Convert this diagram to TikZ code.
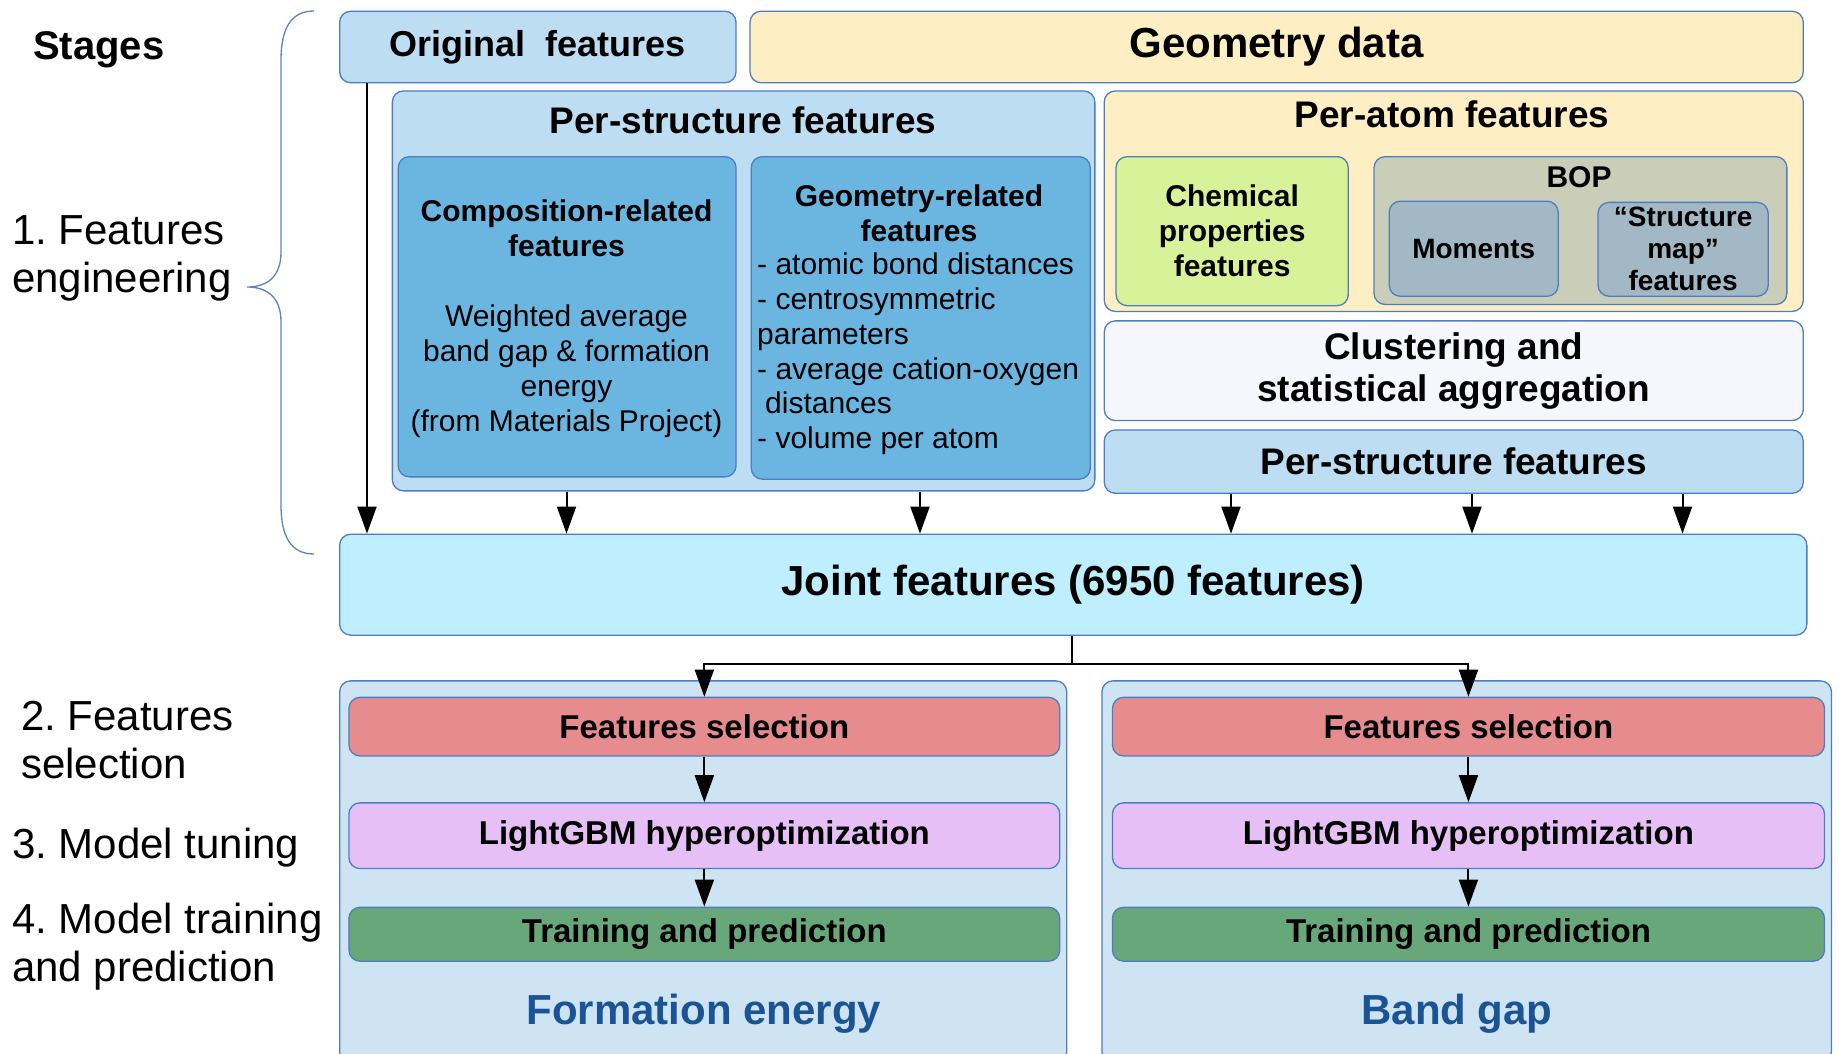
\documentclass[tikz,border=0pt]{standalone}
\usepackage{fontspec}
\setmainfont{Liberation Sans}
\usetikzlibrary{arrows.meta}
\frenchspacing

\definecolor{bdr}{HTML}{4E7DC0}
\definecolor{lblue}{HTML}{BDDDF2}
\definecolor{lyel}{HTML}{FDEFC3}
\definecolor{mblue}{HTML}{6BB5E1}
\definecolor{lgreen}{HTML}{D8F29A}
\definecolor{bopc}{HTML}{CACEB9}
\definecolor{momc}{HTML}{A3B8C5}
\definecolor{clus}{HTML}{F6F6FD}
\definecolor{jointc}{HTML}{BFEFFE}
\definecolor{outerb}{HTML}{CFE4F3}
\definecolor{fselc}{HTML}{E68C8E}
\definecolor{lgbmc}{HTML}{E6BFF6}
\definecolor{trainc}{HTML}{68A77A}
\definecolor{bluetxt}{HTML}{1B5494}
\definecolor{bracec}{HTML}{5A84BE}

\newcommand{\rbox}[7]{%
  \node[#2, anchor=north west, minimum width={#5-#3}, minimum height={#6-#4},
        inner sep=0pt, align=center] (#1) at (#3,#4) {#7};}

\tikzset{
  box/.style={draw=bdr, line width=1.3pt, rounded corners=11pt},
  arr/.style={-{Triangle[length=27pt,width=19pt]}, line width=2pt, black},
  conn/.style={line width=2pt, black},
  fA/.style={font=\fontsize{42}{49}\selectfont\bfseries},
  fB/.style={font=\fontsize{37}{42}\selectfont\bfseries},
  fO/.style={font=\fontsize{36}{42}\selectfont\bfseries},
  fC/.style={font=\fontsize{30}{35}\selectfont\bfseries},
  fD/.style={font=\fontsize{28}{32}\selectfont\bfseries},
  fS/.style={font=\fontsize{33}{38}\selectfont\bfseries},
  fL/.style={font=\fontsize{42}{48}\selectfont, inner sep=0pt, anchor=west, align=left},
}

\begin{document}
\begin{tikzpicture}[x=1pt,y=-1pt]
\useasboundingbox (0,0) rectangle (1839,1053);
\clip (0,0) rectangle (1839,1053);

% ---------- stage labels ----------
\node[font=\fontsize{40}{46}\selectfont\bfseries, inner sep=0pt, anchor=west] (stages) at (33,50) {Stages};
\node[fL] (st1) at (12,258) {1. Features\\engineering};
\node[fL] (st2) at (21,740) {2. Features\\selection};
\node[fL] (st3) at (12,848) {3. Model tuning};
\node[fL] (st4) at (12,947) {4. Model training\\and prediction};

% brace
\draw[bracec, line width=1.3pt]
  (314,11) .. controls (290,11) and (281,30) .. (281,60)
  -- (281,252) .. controls (281,276) and (268,287) .. (247,287)
  .. controls (268,287) and (281,298) .. (281,322)
  -- (281,505) .. controls (281,535) and (290,554) .. (314,554);

% ---------- top row ----------
\rbox{orig}{box, fill=lblue, fO}{339}{10.6}{735.4}{82.1}{Original\ \ features}
\rbox{geom}{box, fill=lyel, fA}{749.4}{10.6}{1802.6}{82.1}{Geometry data}

% per-structure (left)
\rbox{psL}{box, fill=lblue}{391.7}{90.3}{1094.2}{490.2}{}
\node[fB] (psLt) at (743,120) {Per-structure features};
\rbox{comp}{box, fill=mblue}{397.6}{156}{735.4}{476.2}{}
\node[font=\fontsize{30}{35}\selectfont, align=center, inner sep=0pt] (compt) at (566.5,319)
  {\textbf{Composition-related}\\\textbf{features}\\[35pt]Weighted average\\band gap \& formation\\energy\\(from Materials Project)};
\rbox{geor}{box, fill=mblue}{750.6}{156}{1089.6}{478.5}{}
\node[fC, align=center, inner sep=0pt] (geort) at (919,213.5) {Geometry-related\\features};
\node[font=\fontsize{30}{34.8}\selectfont, align=left, inner sep=0pt, anchor=west] (georl) at (757,354)
  {- atomic bond distances\\- centrosymmetric\\parameters\\- average cation-oxygen\\\hspace*{8pt}distances\\- volume per atom};

% per-atom (right)
\rbox{patom}{box, fill=lyel}{1103.6}{90.3}{1802.6}{310.8}{}
\node[fB] (patomt) at (1452,114) {Per-atom features};
\rbox{chem}{box, fill=lgreen, fC}{1115.4}{156}{1347.6}{305}{Chemical\\properties\\features}
\rbox{bop}{box, fill=bopc}{1373.4}{156}{1786.2}{303.8}{}
\node[fC] (bopt) at (1579,177) {BOP};
\rbox{mom}{box, fill=momc, fD}{1388.6}{200.5}{1557.5}{295.6}{Moments}
\rbox{smap}{box, fill=momc, fD}{1597.4}{201.7}{1767.5}{295.6}{``Structure\\map''\\features}
\rbox{clu}{box, fill=clus, fB}{1103.6}{320.2}{1802.6}{419.9}{Clustering and\\statistical aggregation}
\rbox{psR}{box, fill=lblue, fB}{1103.6}{429.3}{1802.6}{492.6}{Per-structure features}

% joint
\rbox{joint}{box, fill=jointc, fA}{339}{533.6}{1806.2}{634.5}{Joint features (6950 features)}

% arrows into joint
\coordinate (xa) at (367,0);
\coordinate (xb) at (566.5,0);
\coordinate (xc) at (920,0);
\coordinate (xd) at (1231,0);
\coordinate (xe) at (1472,0);
\coordinate (xf) at (1682.5,0);
\draw[arr] (orig.south -| xa) -- (joint.north -| xa);
\draw[arr] (psL.south -| xb) -- (joint.north -| xb);
\draw[arr] (psL.south -| xc) -- (joint.north -| xc);
\draw[arr] (psR.south -| xd) -- (joint.north -| xd);
\draw[arr] (psR.south -| xe) -- (joint.north -| xe);
\draw[arr] (psR.south -| xf) -- (joint.north -| xf);

% ---------- bottom ----------
\rbox{outF}{box, fill=outerb}{339}{680.2}{1066.1}{1062}{}
\rbox{outB}{box, fill=outerb}{1101.3}{680.2}{1830.8}{1062}{}

\rbox{fs1}{box, fill=fselc, fS}{348.3}{696.7}{1059.1}{755.3}{Features selection}
\rbox{lg1}{box, fill=lgbmc, fS}{348.3}{802.2}{1059.1}{867.9}{LightGBM hyperoptimization}
\rbox{tr1}{box, fill=trainc, fS}{348.3}{906.6}{1059.1}{960.5}{Training and prediction}
\node[fA, text=bluetxt] (fe) at (704,1014) {Formation energy};

\rbox{fs2}{box, fill=fselc, fS}{1111.8}{696.7}{1823.8}{755.3}{Features selection}
\rbox{lg2}{box, fill=lgbmc, fS}{1111.8}{802.2}{1823.8}{867.9}{LightGBM hyperoptimization}
\rbox{tr2}{box, fill=trainc, fS}{1111.8}{906.6}{1823.8}{960.5}{Training and prediction}
\node[fA, text=bluetxt] (bg) at (1457,1013.5) {Band gap};

\coordinate (hub) at (1071.6,664.3);
\draw[conn] (joint.south -| hub) -- (hub);
\draw[arr] (hub) -| (fs1.north);
\draw[arr] (hub) -| (fs2.north);
\draw[arr] (fs1) -- (lg1);
\draw[arr] (lg1) -- (tr1);
\draw[arr] (fs2) -- (lg2);
\draw[arr] (lg2) -- (tr2);
\end{tikzpicture}
\end{document}
